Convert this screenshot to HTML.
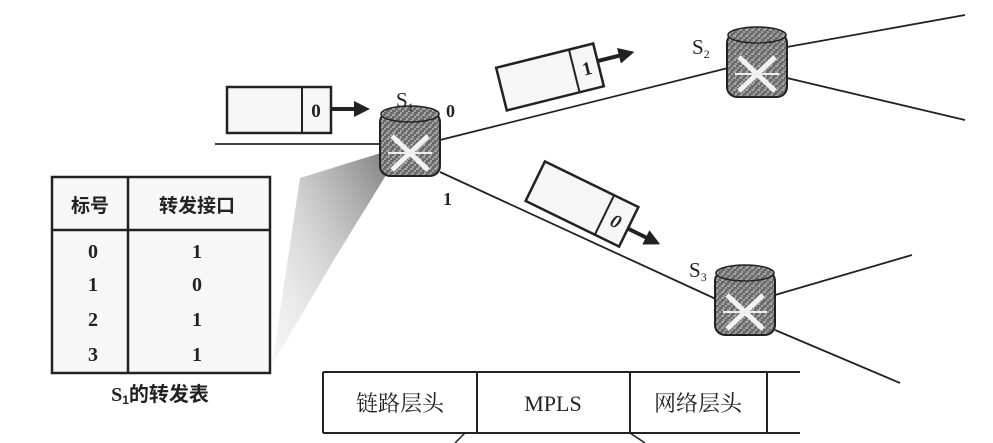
<!DOCTYPE html>
<html><head><meta charset="utf-8"><style>
html,body{margin:0;padding:0;background:#fff;width:993px;height:443px;overflow:hidden}
svg{display:block}
text{font-family:"Liberation Serif","Noto Serif CJK SC",serif;fill:#222}
.cjk{font-family:"Liberation Sans","Noto Sans CJK SC",sans-serif;font-weight:bold}
</style></head><body>
<svg width="993" height="443" viewBox="0 0 993 443">
<defs>
<linearGradient id="wedge" x1="1" y1="0" x2="0" y2="1">
<stop offset="0" stop-color="#555"/><stop offset="0.5" stop-color="#aaa" stop-opacity="0.7"/><stop offset="1" stop-color="#ddd" stop-opacity="0.3"/>
</linearGradient>
<pattern id="tex" width="6" height="6" patternUnits="userSpaceOnUse">
<rect width="6" height="6" fill="#6a6a6a"/><path d="M0 3h3M3 0v2M4 5h2" stroke="#ddd" stroke-width="1"/>
</pattern>
<marker id="ah" markerWidth="4" markerHeight="4" refX="2" refY="2" orient="auto"><path d="M0 0L4 2L0 4z" fill="#222"/></marker>
<g id="router">
<rect x="-30" y="-30" width="60" height="64" rx="10" fill="url(#tex)" stroke="#222" stroke-width="2"/>
<ellipse cx="0" cy="-28" rx="29" ry="8" fill="url(#tex)" stroke="#222" stroke-width="1.5"/>
<path d="M-18 -6L18 28M18 -6L-18 28" stroke="#f2f2f2" stroke-width="5"/>
<path d="M-22 11h44" stroke="#eee" stroke-width="2"/>
</g>
</defs>

<g stroke="#222" stroke-width="1.8" fill="none">
<line x1="215" y1="144" x2="382" y2="144"/>
<line x1="440" y1="140" x2="728" y2="68"/>
<line x1="440" y1="172" x2="718" y2="300"/>
<line x1="787" y1="47" x2="965" y2="15"/>
<line x1="787" y1="78" x2="965" y2="120"/>
<line x1="775" y1="295" x2="912" y2="255"/>
<line x1="775" y1="330" x2="900" y2="383"/>
</g>

<polygon points="384,152 300,178 272,365 335,258 388,172" fill="url(#wedge)" opacity="0.75"/>

<use href="#router" x="410" y="142"/>
<use href="#router" x="757" y="63"/>
<use href="#router" x="745" y="301"/>
<text x="396" y="107" font-size="21">S<tspan font-size="12" dy="4">1</tspan></text>
<text x="692" y="54" font-size="21">S<tspan font-size="12" dy="4">2</tspan></text>
<text x="689" y="277" font-size="21">S<tspan font-size="12" dy="4">3</tspan></text>
<text x="446" y="117" font-size="18" font-weight="bold">0</text>
<text x="443" y="205" font-size="18" font-weight="bold">1</text>

<g>
<rect x="227" y="87" width="104" height="46" fill="#f6f6f6" stroke="#222" stroke-width="2.5"/>
<line x1="302" y1="87" x2="302" y2="133" stroke="#222" stroke-width="2"/>
<text x="316" y="117" font-size="19" font-weight="bold" text-anchor="middle">0</text>
<line x1="331" y1="109" x2="362" y2="109" stroke="#222" stroke-width="4" marker-end="url(#ah)"/>
</g>
<g transform="translate(550,77) rotate(-14)">
<rect x="-50" y="-22" width="100" height="44" fill="#f6f6f6" stroke="#222" stroke-width="2.5"/>
<line x1="25" y1="-22" x2="25" y2="22" stroke="#222" stroke-width="2"/>
<text x="38" y="7" font-size="19" font-weight="bold" text-anchor="middle">1</text>
<line x1="50" y1="-4" x2="80" y2="-4" stroke="#222" stroke-width="4" marker-end="url(#ah)"/>
</g>
<g transform="translate(582,204) rotate(26)">
<rect x="-52" y="-22" width="104" height="44" fill="#f6f6f6" stroke="#222" stroke-width="2.5"/>
<line x1="25" y1="-22" x2="25" y2="22" stroke="#222" stroke-width="2"/>
<text x="38" y="7" font-size="19" font-weight="bold" text-anchor="middle" font-style="italic">0</text>
<line x1="52" y1="2" x2="80" y2="2" stroke="#222" stroke-width="4" marker-end="url(#ah)"/>
</g>

<g>
<rect x="52" y="177" width="218" height="196" fill="#f7f7f7" stroke="#222" stroke-width="2.5"/>
<line x1="128" y1="177" x2="128" y2="373" stroke="#222" stroke-width="2.5"/>
<line x1="52" y1="230" x2="270" y2="230" stroke="#222" stroke-width="2.5"/>
<text class="cjk" x="90" y="212" font-size="19" text-anchor="middle">标号</text>
<text class="cjk" x="197" y="212" font-size="19" text-anchor="middle">转发接口</text>
<g font-size="20" font-weight="bold" text-anchor="middle" font-family="Liberation Sans,sans-serif">
<text x="93" y="258">0</text><text x="197" y="258">1</text>
<text x="93" y="291">1</text><text x="197" y="291">0</text>
<text x="93" y="326">2</text><text x="197" y="326">1</text>
<text x="93" y="361">3</text><text x="197" y="361">1</text>
</g>
</g>
<text class="cjk" x="160" y="401" font-size="20" text-anchor="middle"><tspan font-family="Liberation Serif">S</tspan><tspan font-size="12" dy="3">1</tspan><tspan dy="-3">的转发表</tspan></text>

<g>
<line x1="323" y1="372" x2="800" y2="372" stroke="#222" stroke-width="2"/>
<line x1="323" y1="433" x2="800" y2="433" stroke="#222" stroke-width="2"/>
<line x1="323" y1="372" x2="323" y2="433" stroke="#222" stroke-width="2"/>
<line x1="477" y1="372" x2="477" y2="433" stroke="#222" stroke-width="2"/>
<line x1="630" y1="372" x2="630" y2="433" stroke="#222" stroke-width="2"/>
<line x1="767" y1="372" x2="767" y2="433" stroke="#222" stroke-width="2"/>
<line x1="465" y1="433" x2="455" y2="443" stroke="#222" stroke-width="1.5"/>
<line x1="630" y1="433" x2="645" y2="443" stroke="#222" stroke-width="1.5"/>
<text x="400" y="411" font-size="22" text-anchor="middle" font-family="Liberation Sans,Noto Sans CJK SC,sans-serif">链路层头</text>
<text x="553" y="411" font-size="22" text-anchor="middle">MPLS</text>
<text x="698" y="411" font-size="22" text-anchor="middle" font-family="Liberation Sans,Noto Sans CJK SC,sans-serif">网络层头</text>
</g>
</svg>
</body></html>
